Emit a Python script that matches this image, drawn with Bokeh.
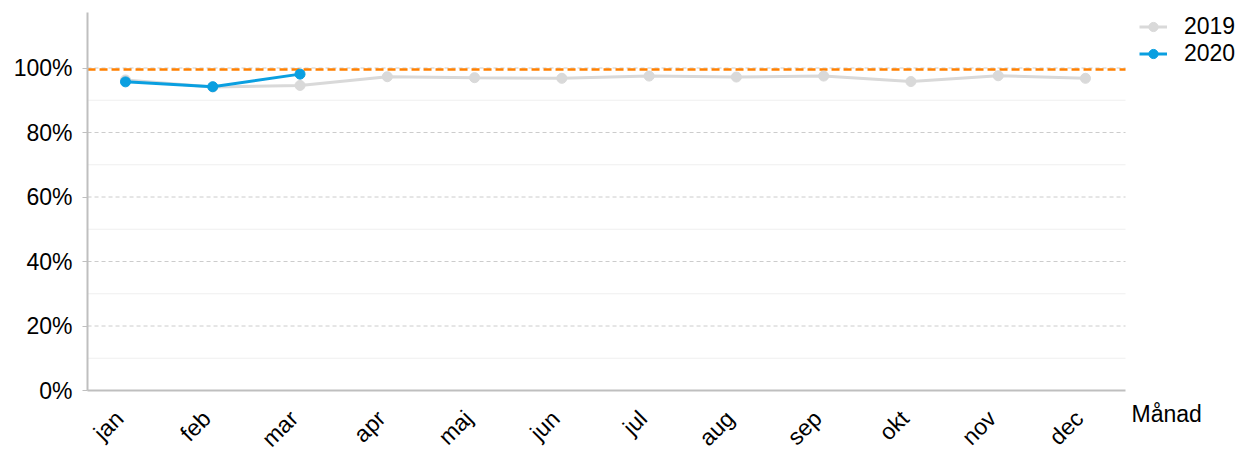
import math
from bokeh.plotting import figure
from bokeh.models import (FixedTicker, Legend, LegendItem, Label, Range1d,
                          ColumnDataSource, CustomJSTickFormatter)
from bokeh.embed import file_html
from bokeh.resources import INLINE

months = ["jan", "feb", "mar", "apr", "maj", "jun", "jul", "aug", "sep", "okt", "nov", "dec"]
v2019 = [96.3, 94.1, 94.6, 97.3, 97.0, 96.8, 97.5, 97.2, 97.5, 95.8, 97.6, 96.8]
v2020 = [95.7, 94.2, 98.1]
target = 99.5
y_ticks = [0, 20, 40, 60, 80, 100]
y_minor = [10, 30, 50, 70, 90]
y_labels = ["0%", "20%", "40%", "60%", "80%", "100%"]

FONT = "Liberation Sans"
FS = "23px"

W, H = 1239, 450
# plot-area extent (data units)
X_LO, X_HI = -0.435, 11.459
Y_LO, Y_HI = 0, 117.2
LABEL_SHIFT = 0.07  # nudge rotated month labels so their ends sit on the points

p = figure(frame_width=W, frame_height=H, output_backend="svg", toolbar_location=None,
           x_range=Range1d(-1.4323, 12.765), y_range=Range1d(-18.6, 120.93),
           min_border=0)
p.outline_line_color = None
p.background_fill_color = "white"
p.grid.visible = False

x19 = list(range(len(v2019)))
x20 = list(range(len(v2020)))
s19 = ColumnDataSource(dict(x=x19, y=v2019))
s20 = ColumnDataSource(dict(x=x20, y=v2020))

# grid lines limited to the plot area
gmaj = ColumnDataSource(dict(y=y_ticks[1:]))
gmin = ColumnDataSource(dict(y=y_minor))
p.segment(x0=X_LO, x1=X_HI, y0="y", y1="y", source=gmin, line_color="#efefef", line_width=1)
p.segment(x0=X_LO, x1=X_HI, y0="y", y1="y", source=gmaj, line_color="#cccccc",
          line_width=1, line_dash="4 3")

# target line
p.segment(x0=X_LO, x1=X_HI, y0=target, y1=target, line_color="#ff8000", line_width=2.5,
          line_dash="8 4")

l19 = p.line("x", "y", source=s19, line_color="#d9d9d9", line_width=3)
c19 = p.scatter("x", "y", source=s19, size=10, fill_color="#d9d9d9", line_color="#d9d9d9")
l20 = p.line("x", "y", source=s20, line_color="#0a9fe0", line_width=3)
c20 = p.scatter("x", "y", source=s20, size=10, fill_color="#0a9fe0", line_color="#0a9fe0")

# y axis
p.yaxis.fixed_location = X_LO
p.yaxis.bounds = (Y_LO, Y_HI)
p.yaxis.ticker = FixedTicker(ticks=y_ticks, minor_ticks=y_minor)
p.yaxis.major_label_overrides = {t: l for t, l in zip(y_ticks, y_labels)}
p.yaxis.major_label_text_font = FONT
p.yaxis.major_label_text_font_size = FS
p.yaxis.major_label_text_color = "#000000"
p.yaxis.major_label_standoff = 10
p.yaxis.axis_line_color = "#bfbfbf"
p.yaxis.axis_line_width = 2
p.yaxis.major_tick_line_color = "#bfbfbf"
p.yaxis.major_tick_in = 0
p.yaxis.major_tick_out = 5
p.yaxis.minor_tick_line_color = None

# x axis
p.xaxis.fixed_location = Y_LO
p.xaxis.bounds = (X_LO, X_HI)
p.xaxis.ticker = FixedTicker(ticks=[i - LABEL_SHIFT for i in x19])
p.xaxis.formatter = CustomJSTickFormatter(args=dict(months=months),
                                          code="return months[Math.round(tick)] || ''")
p.xaxis.major_label_orientation = math.pi / 4
p.xaxis.major_label_text_font = FONT
p.xaxis.major_label_text_font_size = FS
p.xaxis.major_label_text_color = "#000000"
p.xaxis.major_label_standoff = 18
p.xaxis.axis_line_color = "#bfbfbf"
p.xaxis.axis_line_width = 2
p.xaxis.major_tick_line_color = None
p.xaxis.minor_tick_line_color = None

legend = Legend(items=[LegendItem(label="2019", renderers=[l19, c19]),
                       LegendItem(label="2020", renderers=[l20, c20])],
                location=(1139, 383), border_line_color=None, background_fill_alpha=0,
                label_text_font=FONT, label_text_font_size=FS, label_text_color="#000000",
                glyph_width=28, glyph_height=23, label_height=23, spacing=-3,
                padding=0, margin=0, label_standoff=17)
p.add_layout(legend, "center")

lab = Label(x=1131, y=H - 413, x_units="screen", y_units="screen", text="Månad",
            text_font=FONT, text_font_size=FS, text_color="#000000",
            text_baseline="middle", text_align="left")
p.add_layout(lab)

open("out.html", "w").write(file_html(p, INLINE))
